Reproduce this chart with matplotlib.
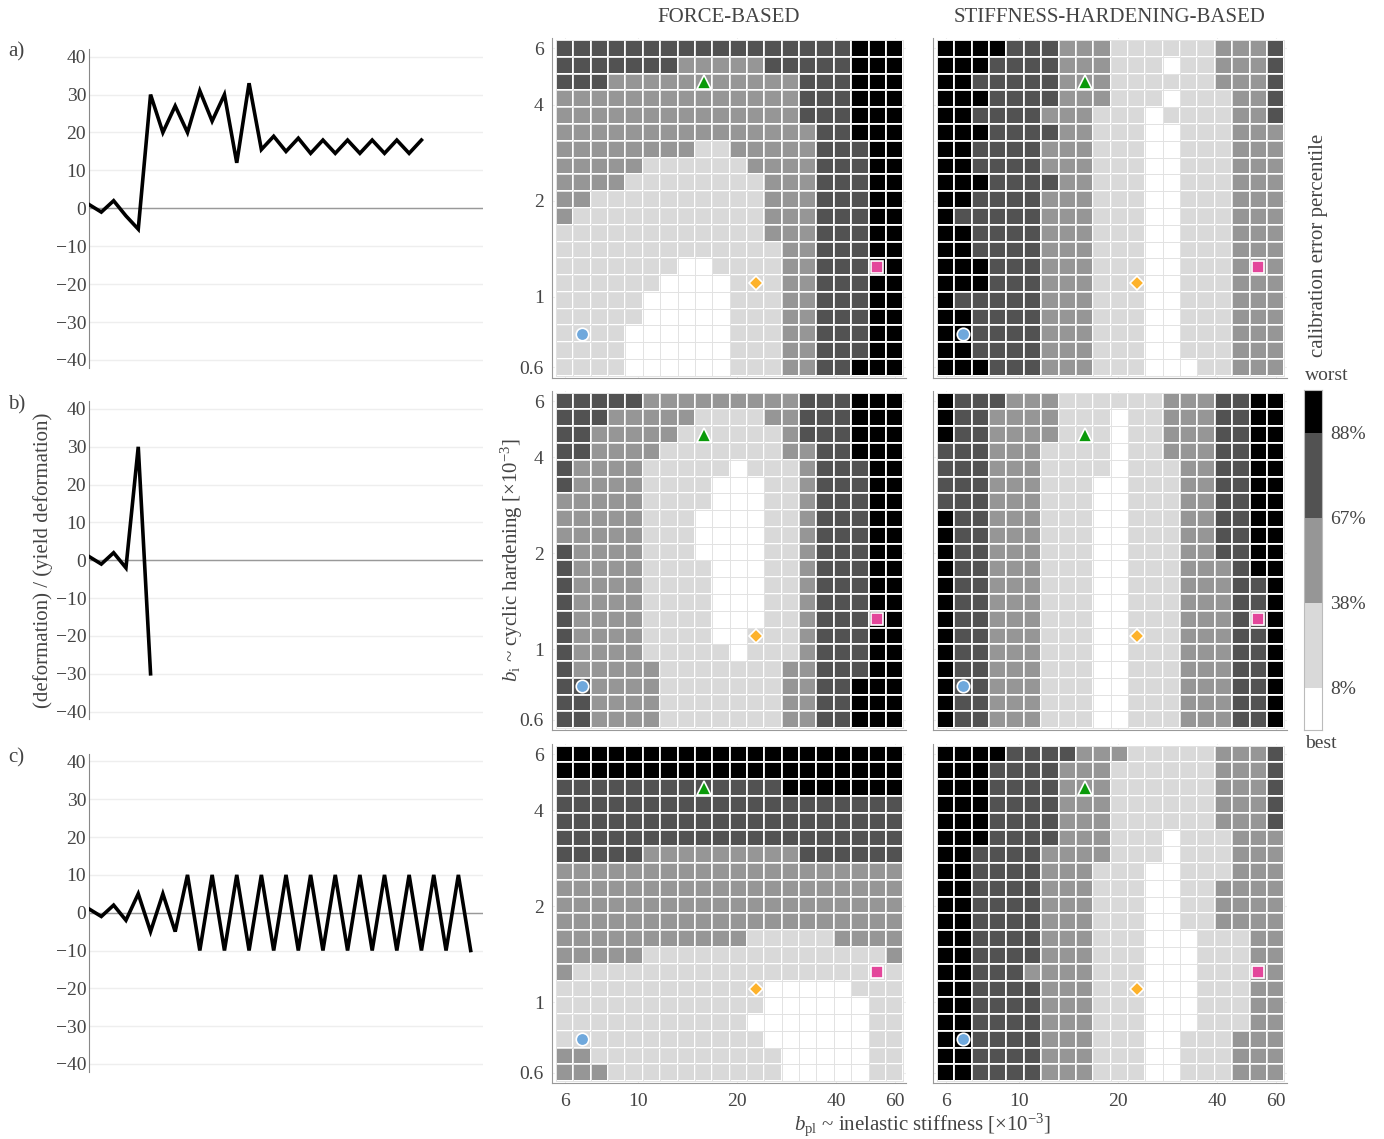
import numpy as np
import matplotlib.pyplot as plt
from matplotlib.colors import ListedColormap, BoundaryNorm
from matplotlib.ticker import NullLocator

plt.rcParams['font.family'] = ['Liberation Serif', 'DejaVu Serif']
plt.rcParams['mathtext.fontset'] = 'custom'
plt.rcParams['mathtext.rm'] = 'Liberation Serif'
plt.rcParams['mathtext.it'] = 'Liberation Serif:italic'
plt.rcParams['text.color'] = '#444444'
plt.rcParams['xtick.color'] = '#444444'
plt.rcParams['ytick.color'] = '#444444'

# loading protocols: (deformation) / (yield deformation) per half cycle
protocol_a = [1, -1, 2, -2, -5.5, 30, 20, 27, 20, 31, 23, 30, 12, 33, 15.5, 19,
              15, 18.5, 14.5, 18, 14.5, 18, 14.5, 18, 14.5, 18, 14.5, 18]
protocol_b = [1, -1, 2, -2, 30, -30]
protocol_c = [1, -1, 2, -2, 5, -5, 5, -5, 10, -10, 10, -10, 10, -10, 10, -10,
              10, -10, 10, -10, 10, -10, 10, -10, 10, -10, 10, -10, 10, -10, 10, -10]
protocols = [protocol_a, protocol_b, protocol_c]
panel_labels = ['a)', 'b)', 'c)']

# parameter grid [x10^-3]
b_pl = [6.0, 6.77, 7.65, 8.63, 9.74, 11.0, 12.41, 14.01, 15.82, 17.86,
        20.16, 22.76, 25.69, 29.0, 32.73, 36.95, 41.71, 47.09, 53.15, 60.0]
b_i = [0.6, 0.677, 0.765, 0.863, 0.974, 1.10, 1.241, 1.401, 1.582, 1.786,
       2.016, 2.276, 2.569, 2.90, 3.273, 3.695, 4.171, 4.709, 5.315, 6.0]

# percentile class per cell (0 best .. 4 worst), top row = b_i 6
force_a = [
    "33333333333333333444", "33333332222233333444", "33322222222222333444",
    "22222222222222333444", "22222222222222333444", "22222222222222233444",
    "22222222112222233344", "22222111111222233344", "22221111111122233344",
    "22111111111122233344", "21111111111122233344", "11111111111122233344",
    "11111111111112233344", "11111110011112233344", "11111100001112233344",
    "11111000001112233344", "11111000001112233344", "11110000001112233344",
    "11110000001112233344", "11110000001112233444"]
stiff_a = [
    "44443332221111112223", "44433332221110112223", "44333332221111112223",
    "44433332221110111223", "44333322211101111223", "44433332211100111222",
    "44333322211100111222", "44333322211100111222", "44433332211100111222",
    "44333322211100111222", "43333322211100111222", "44333322211100111222",
    "44333322211100111222", "44433322211100111222", "44433322211100111222",
    "43333322211100111222", "44333322211100111222", "44333322211100111222",
    "44333322211100111222", "44433322211100011222"]
force_b = [
    "33333222222222333444", "33322222111122333444", "33222221111112333444",
    "33222211111112233444", "32222111110111233344", "32222111100011233344",
    "22222111100011233344", "22222111000011233344", "22222111000011233344",
    "32222111000011233344", "32222111100011233344", "32222111100011233344",
    "32222111100011233344", "32222111100011233344", "32222111100111233344",
    "32222111110111233344", "32222211111112233344", "33222211111112233444",
    "33222211111112233444", "33222211111112233444"]
stiff_b = [
    "43332221111112223344", "43322221110112223344", "43322221110112223344",
    "33322211110112223344", "33322211110111223344", "33322211100111223344",
    "33322211100111223344", "43322211100111223344", "43322211100111223344",
    "43322211100111223344", "43322211100111222344", "43322211100111222334",
    "43322211100111222334", "43322211100111222334", "43322211100111222334",
    "43322211100111222334", "43322211100111222334", "43322211100111222334",
    "43322211100111222334", "43322211100111222334"]
force_c = [
    "44444444444444444444", "44444444444444444444", "33333333333334444444",
    "33333333333333333333", "33333333333333333333", "33333333333333333333",
    "33333222222222333333", "22222222222222222222", "22222222222222222222",
    "22222222222222222222", "22222222222222222222", "22222222222111112222",
    "22222111111111111112", "21111111111111111111", "11111111111100000111",
    "11111111111100000011", "11111111111000000011", "11111111111100000011",
    "22111111111110000011", "22211111111110000011"]
stiff_c = [
    "44443333222111112223", "44433332221111112223", "44433332221111112223",
    "44433332221111112223", "44433332221111112223", "44433332221110111222",
    "44333322221110111222", "44333322211100111222", "44333322211100112222",
    "44333322211100112222", "44333322211100112222", "44333322211100011122",
    "44333322211100011122", "44333222211100011122", "44333322211100011122",
    "44333322211100011122", "44333322211100011122", "44333322211100111222",
    "44333322211100111222", "44333322211100111222"]
grids = [[force_a, stiff_a], [force_b, stiff_b], [force_c, stiff_c]]

# highlighted parameter sets (b_pl, b_i)
highlights = [
    (6.77, 0.765, 'o', '#6fa8dc', 9),
    (15.82, 4.709, '^', '#0a9a0a', 10),
    (22.76, 1.10, 'D', '#fdb22b', 7.5),
    (53.15, 1.241, 's', '#e3479b', 8),
]

class_colors = ['#ffffff', '#d9d9d9', '#969696', '#525252', '#000000']
class_bounds = ['8%', '38%', '67%', '88%']
column_titles = ['FORCE-BASED', 'STIFFNESS-HARDENING-BASED']

W, H = 1384, 1139
fig = plt.figure(figsize=(W / 100, H / 100), dpi=100)


def box(x0, y0, x1, y1):
    return [x0 / W, 1 - y1 / H, (x1 - x0) / W, (y1 - y0) / H]


def log_edges(centers):
    c = np.log10(centers)
    mid = (c[:-1] + c[1:]) / 2
    return 10 ** np.concatenate([[2 * c[0] - mid[0]], mid, [2 * c[-1] - mid[-1]]])


cmap = ListedColormap(class_colors)
norm = BoundaryNorm(np.arange(-0.5, 5.5, 1), cmap.N)
x_edges = log_edges(b_pl)
y_edges = log_edges(b_i)

line_rows = [(49.1, 367.5), (401.4, 719.2), (753.9, 1071.5)]
heat_rows = [(38, 378), (390.6, 730.4), (743.6, 1083.4)]
heat_cols = [(552, 906), (933, 1287)]

for r, prot in enumerate(protocols):
    ax = fig.add_axes(box(89, line_rows[r][0], 483, line_rows[r][1]))
    ax.plot(range(len(prot)), prot, color='black', lw=2.6,
            solid_joinstyle='miter', zorder=3)
    ax.set_xlim(0, 32)
    ax.set_ylim(-42, 42)
    ax.set_yticks(range(-40, 41, 10))
    ax.set_xticks([])
    ax.grid(axis='y', color='#eeeeee', lw=1)
    ax.axhline(0, color='#999999', lw=1, zorder=2)
    for s in ['top', 'right', 'bottom']:
        ax.spines[s].set_visible(False)
    ax.spines['left'].set_color('#888888')
    ax.spines['left'].set_linewidth(0.8)
    ax.tick_params(axis='y', length=0, labelsize=14, pad=2)
    fig.text(8 / W, 1 - (52 + 353 * r) / H, panel_labels[r], fontsize=15,
             va='center', ha='left')

    for c in range(2):
        hx = fig.add_axes(box(heat_cols[c][0], heat_rows[r][0],
                              heat_cols[c][1], heat_rows[r][1]))
        Z = np.array([[int(ch) for ch in row] for row in grids[r][c]])[::-1]
        hx.pcolormesh(x_edges, y_edges, Z, cmap=cmap, norm=norm,
                      edgecolors='white', linewidth=1.4, zorder=2)
        # faint outline around the best-class (white) cells
        hx.pcolormesh(x_edges, y_edges, np.ma.masked_where(Z != 0, Z),
                      facecolor='none', edgecolors='#e2e2e2', linewidth=0.6,
                      cmap=cmap, norm=norm, zorder=3)
        for bx, by, mk, col, ms in highlights:
            hx.plot(bx, by, marker=mk, color=col, ms=ms, mec='white',
                    mew=1.2, ls='none', zorder=4)
        hx.set_xscale('log')
        hx.set_yscale('log')
        hx.set_xlim(5.49, 65.0)
        hx.set_ylim(0.556, 6.47)
        hx.set_xticks([6, 10, 20, 40, 60])
        hx.set_yticks([0.6, 1, 2, 4, 6])
        hx.xaxis.set_minor_locator(NullLocator())
        hx.yaxis.set_minor_locator(NullLocator())
        hx.set_xticklabels(['6', '10', '20', '40', '60'] if r == 2 else [])
        hx.set_yticklabels(['0.6', '1', '2', '4', '6'] if c == 0 else [])
        hx.tick_params(axis='y', length=0, labelsize=14, pad=6)
        hx.tick_params(axis='x', length=0, labelsize=14, pad=7)
        hx.set_axisbelow(True)
        hx.grid(color='#eeeeee', lw=0.8)
        for s in ['top', 'right']:
            hx.spines[s].set_visible(False)
        for s in ['left', 'bottom']:
            hx.spines[s].set_color('#999999')
            hx.spines[s].set_linewidth(0.8)
        if r == 0:
            xc = (heat_cols[c][0] + heat_cols[c][1]) / 2
            fig.text(xc / W, 1 - 18 / H, column_titles[c], fontsize=15,
                     ha='center', va='center')

# colour key
cax = fig.add_axes(box(1304, 390, 1322, 730))
key_edges = [0, 0.5, 1.5, 2.5, 3.5, 4]
cax.pcolormesh([0, 1], key_edges, np.arange(5).reshape(-1, 1), cmap=cmap, norm=norm)
cax.set_xlim(0, 1)
cax.set_ylim(0, 4)
cax.set_xticks([])
cax.yaxis.tick_right()
cax.set_yticks(key_edges[1:-1])
cax.set_yticklabels(class_bounds)
cax.tick_params(axis='y', length=0, labelsize=14, pad=6)
for s in cax.spines.values():
    s.set_color('#bbbbbb')
    s.set_linewidth(0.8)
fig.text(1305 / W, 1 - 376 / H, 'worst', fontsize=14, ha='left', va='center')
fig.text(1305 / W, 1 - 743 / H, 'best', fontsize=14, ha='left', va='center')
fig.text(1318 / W, 1 - 245 / H, 'calibration error percentile', fontsize=15,
         rotation=90, ha='center', va='center')

# axis titles
fig.text(43 / W, 1 - 560 / H, '(deformation) / (yield deformation)', fontsize=15,
         rotation=90, ha='center', va='center')
fig.text(512 / W, 1 - 560 / H,
         r'$b_{\mathrm{i}}$ ~ cyclic hardening [×10$^{-3}$]', fontsize=15,
         rotation=90, ha='center', va='center')
fig.text(922 / W, 1 - 1138 / H,
         r'$b_{\mathrm{pl}}$ ~ inelastic stiffness [×10$^{-3}$]', fontsize=15,
         ha='center', va='bottom')

fig.savefig('out.png', dpi=100, facecolor='white')
